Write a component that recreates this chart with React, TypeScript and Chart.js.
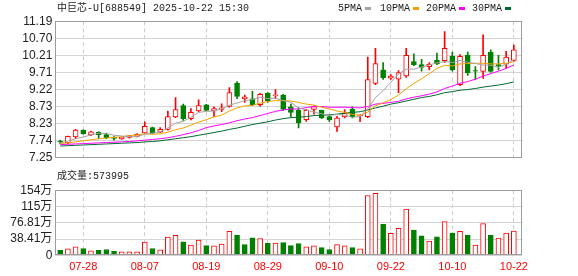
import React, { useEffect, useRef } from 'react';
import { Chart, registerables } from 'chart.js';

Chart.register(...registerables);

const TITLE = '中巨芯-U[688549] 2025-10-22 15:30';
const VOLUME_TITLE = '成交量';
const MA_LABELS = ['5PMA', '10PMA', '20PMA', '30PMA'];

const DATES = [
  '07-23', '07-24', '07-25', '07-28', '07-29', '07-30', '07-31', '08-01', '08-04', '08-05',
  '08-06', '08-07', '08-08', '08-11', '08-12', '08-13', '08-14', '08-15', '08-18', '08-19',
  '08-20', '08-21', '08-22', '08-25', '08-26', '08-27', '08-28', '08-29', '09-01', '09-02',
  '09-03', '09-04', '09-05', '09-08', '09-09', '09-10', '09-11', '09-12', '09-15', '09-16',
  '09-17', '09-18', '09-19', '09-22', '09-23', '09-24', '09-25', '09-26', '09-29', '09-30',
  '10-09', '10-10', '10-13', '10-14', '10-15', '10-16', '10-17', '10-20', '10-21', '10-22',
];
const X_TICK_DATES = ['07-28', '08-07', '08-19', '08-29', '09-10', '09-22', '10-10', '10-22'];

const OPEN = [
  7.73, 7.68, 7.85, 8.05, 7.91, 7.99, 7.92, 7.85, 7.80, 7.84,
  7.87, 7.97, 8.12, 7.99, 8.07, 8.43, 8.76, 8.38, 8.60, 8.78,
  8.60, 8.65, 8.73, 9.40, 8.95, 8.95, 8.78, 9.11, 9.04, 9.06,
  8.72, 8.62, 8.35, 8.65, 8.62, 8.44, 8.14, 8.43, 8.65, 8.46,
  8.44, 9.40, 9.79, 9.55, 9.52, 9.61, 10.03, 9.94, 9.88, 10.06,
  10.05, 10.18, 9.36, 10.21, 9.77, 9.74, 10.30, 9.94, 9.95, 10.06,
];
const HIGH = [
  7.76, 7.88, 8.07, 8.06, 8.02, 8.00, 7.96, 7.86, 7.86, 7.90,
  7.95, 8.29, 8.14, 8.12, 8.60, 8.99, 8.80, 8.67, 8.92, 8.79,
  8.72, 8.81, 9.28, 9.45, 9.06, 9.17, 9.11, 9.13, 9.22, 9.08,
  8.80, 8.70, 8.65, 8.75, 8.63, 8.47, 8.45, 8.64, 8.72, 8.49,
  10.16, 10.41, 10.00, 9.65, 9.77, 10.41, 10.25, 10.09, 10.00, 10.27,
  10.89, 10.30, 10.23, 10.30, 9.88, 10.80, 10.37, 10.21, 10.32, 10.50,
];
const LOW = [
  7.66, 7.66, 7.80, 7.93, 7.89, 7.80, 7.80, 7.76, 7.78, 7.82,
  7.85, 7.96, 7.95, 7.98, 8.05, 8.41, 8.33, 8.34, 8.58, 8.61,
  8.44, 8.58, 8.71, 8.96, 8.85, 8.76, 8.74, 8.85, 8.96, 8.62,
  8.44, 8.11, 8.30, 8.51, 8.38, 8.30, 8.01, 8.40, 8.40, 8.29,
  8.41, 9.36, 9.51, 9.51, 9.13, 9.57, 9.91, 9.75, 9.79, 9.94,
  10.00, 9.75, 9.33, 9.63, 9.51, 9.54, 9.72, 9.79, 9.84, 10.03,
];
const CLOSE = [
  7.71, 7.87, 8.05, 7.94, 8.00, 7.92, 7.83, 7.81, 7.85, 7.89,
  7.93, 8.16, 7.96, 8.07, 8.44, 8.64, 8.38, 8.56, 8.76, 8.62,
  8.67, 8.69, 9.13, 9.02, 9.01, 8.78, 9.08, 8.90, 9.07, 8.65,
  8.56, 8.26, 8.62, 8.73, 8.40, 8.34, 8.40, 8.53, 8.44, 8.48,
  9.51, 9.97, 9.56, 9.61, 9.71, 10.21, 9.94, 9.86, 9.95, 9.97,
  10.41, 9.79, 10.18, 9.70, 9.75, 10.21, 9.74, 9.90, 10.16, 10.37,
];

const MA5 = [
  7.68, 7.73, 7.80, 7.85, 7.91, 7.96, 7.95, 7.90, 7.88, 7.86,
  7.86, 7.93, 7.96, 8.00, 8.11, 8.25, 8.30, 8.42, 8.56, 8.59,
  8.60, 8.66, 8.77, 8.83, 8.90, 8.93, 9.00, 8.96, 8.97, 8.90,
  8.85, 8.69, 8.63, 8.57, 8.52, 8.47, 8.50, 8.48, 8.42, 8.44,
  8.67, 8.99, 9.19, 9.43, 9.67, 9.81, 9.81, 9.87, 9.93, 9.99,
  10.03, 10.00, 10.06, 10.01, 9.97, 9.93, 9.92, 9.86, 9.95, 10.08,
];
const MA10 = [
  7.66, 7.68, 7.71, 7.74, 7.77, 7.80, 7.82, 7.84, 7.86, 7.89,
  7.91, 7.94, 7.93, 7.94, 7.99, 8.06, 8.11, 8.19, 8.28, 8.35,
  8.43, 8.48, 8.60, 8.69, 8.75, 8.76, 8.83, 8.87, 8.90, 8.90,
  8.89, 8.85, 8.80, 8.77, 8.71, 8.66, 8.60, 8.56, 8.50, 8.48,
  8.57, 8.75, 8.84, 8.93, 9.06, 9.24, 9.40, 9.53, 9.68, 9.83,
  9.92, 9.90, 9.96, 9.97, 9.98, 9.98, 9.96, 9.96, 9.98, 10.02,
];
const MA20 = [
  7.63, 7.64, 7.65, 7.66, 7.67, 7.68, 7.69, 7.70, 7.71, 7.72,
  7.74, 7.76, 7.78, 7.80, 7.83, 7.87, 7.92, 7.97, 8.04, 8.12,
  8.17, 8.21, 8.26, 8.32, 8.37, 8.41, 8.47, 8.53, 8.59, 8.63,
  8.66, 8.66, 8.70, 8.73, 8.73, 8.71, 8.71, 8.71, 8.70, 8.69,
  8.73, 8.80, 8.82, 8.85, 8.88, 8.95, 9.00, 9.04, 9.09, 9.15,
  9.25, 9.32, 9.40, 9.45, 9.52, 9.61, 9.68, 9.75, 9.83, 9.93,
];
const MA30 = [
  7.59, 7.60, 7.61, 7.62, 7.63, 7.64, 7.65, 7.66, 7.67, 7.68,
  7.69, 7.71, 7.72, 7.74, 7.77, 7.80, 7.83, 7.86, 7.90, 7.94,
  7.98, 8.02, 8.07, 8.11, 8.16, 8.21, 8.25, 8.29, 8.34, 8.38,
  8.41, 8.42, 8.44, 8.47, 8.48, 8.49, 8.51, 8.54, 8.56, 8.58,
  8.63, 8.69, 8.74, 8.80, 8.84, 8.89, 8.94, 8.99, 9.02, 9.07,
  9.13, 9.16, 9.20, 9.22, 9.25, 9.29, 9.32, 9.35, 9.39, 9.44,
];

const VOLUME = [
  115000, 153000, 199000, 160000, 107000, 115000, 137000, 92000, 84000, 84000,
  84000, 313000, 160000, 130000, 428000, 473000, 320000, 244000, 359000, 229000,
  221000, 267000, 565000, 480000, 252000, 412000, 397000, 282000, 290000, 298000,
  229000, 275000, 198000, 221000, 183000, 137000, 252000, 221000, 183000, 153000,
  1410000, 1460000, 733000, 519000, 634000, 1090000, 595000, 458000, 336000, 435000,
  794000, 527000, 565000, 480000, 244000, 748000, 480000, 405000, 527000, 573995,
];
// 1 = up day (red, hollow), 0 = down day (green)
const VOL_UP = [
  0, 1, 1, 0, 1, 0, 0, 0, 1, 1,
  1, 1, 0, 1, 1, 1, 0, 1, 1, 0,
  1, 1, 1, 0, 0, 0, 1, 0, 1, 0,
  0, 0, 1, 1, 0, 0, 1, 1, 0, 1,
  1, 1, 0, 1, 1, 1, 0, 0, 1, 0,
  1, 0, 1, 0, 1, 1, 0, 1, 1, 1,
];

const PRICE_TICKS = [7.25, 7.74, 8.23, 8.73, 9.22, 9.71, 10.21, 10.7, 11.19];
const PRICE_TICK_LABELS = ['7.25', '7.74', '8.23', '8.73', '9.22', '9.71', '10.21', '10.70', '11.19'];
const VOL_TICKS = [0, 384070, 768140, 1152210, 1536280];
const VOL_TICK_LABELS = ['0', '38.41万', '76.81万', '115万', '154万'];

const RED = '#ff0000';
const GREEN = '#008000';
const MA_COLORS = ['#a3a3a3', '#f4a100', '#ff00ff', '#006b2e'];
const AXIS_FONT = '"Liberation Sans", Arial, "Noto Sans CJK SC", sans-serif';
const MONO_FONT = '"Liberation Mono", "Noto Sans CJK SC", monospace';

const W = 578;
const PLOT_LEFT = 55.3;
const PLOT_RIGHT = 522.3;
const X_MIN = -0.64;
const X_MAX = 60.1;

const framePlugin = {
  id: 'frame',
  afterDatasetsDraw(chart: any) {
    const { ctx, chartArea: a } = chart;
    const x0 = Math.round(a.left) + 0.5;
    const x1 = Math.round(a.right) - 0.5;
    const y0 = Math.round(a.top) + 0.5;
    const y1 = Math.round(a.bottom) - 0.5;
    ctx.save();
    ctx.strokeStyle = '#9c9c9c';
    ctx.lineWidth = 1;
    ctx.strokeRect(x0, y0, x1 - x0, y1 - y0);
    ctx.restore();
  },
};

function xScale(showLabels: boolean, height: number) {
  const tickValues = X_TICK_DATES.map((d) => DATES.indexOf(d));
  return {
    type: 'linear',
    min: X_MIN,
    max: X_MAX,
    offset: false,
    afterBuildTicks: (s: any) => {
      s.ticks = tickValues.map((v) => ({ value: v }));
    },
    afterFit: (s: any) => {
      s.height = height;
    },
    grid: { display: true, drawTicks: false, color: '#cccccc', lineWidth: 1, offset: false },
    border: { display: false, dash: [4, 3] },
    ticks: {
      display: showLabels,
      autoSkip: false,
      maxRotation: 0,
      minRotation: 0,
      padding: 5,
      color: RED,
      font: { family: AXIS_FONT, size: 11 },
      callback: (v: any) => DATES[v] ?? '',
    },
  };
}

function yScale(ticks: number[], labels: string[]) {
  return {
    type: 'linear',
    min: ticks[0],
    max: ticks[ticks.length - 1],
    afterBuildTicks: (s: any) => {
      s.ticks = ticks.map((v) => ({ value: v }));
    },
    afterFit: (s: any) => {
      s.width = PLOT_LEFT;
    },
    grid: { drawTicks: false, color: '#d4d4d4', lineWidth: 1 },
    border: { display: false },
    ticks: {
      autoSkip: false,
      padding: 3,
      color: '#222',
      font: { family: AXIS_FONT, size: 12 },
      callback: (_v: any, i: number) => labels[i],
    },
  };
}

export default function App() {
  const priceRef = useRef<HTMLCanvasElement>(null);
  const volRef = useRef<HTMLCanvasElement>(null);

  useEffect(() => {
    const idx = DATES.map((_, i) => i);
    const up = idx.map((i) => CLOSE[i] >= OPEN[i]);
    const maSeries = [MA5, MA10, MA20, MA30];

    const priceChart = new Chart(priceRef.current as HTMLCanvasElement, {
      type: 'bar',
      data: {
        datasets: [
          ...maSeries.map((s, k) => ({
            type: 'line' as const,
            label: MA_LABELS[k],
            data: s.map((v, i) => ({ x: i, y: v })),
            borderColor: MA_COLORS[k],
            borderWidth: 1,
            pointRadius: 0,
            tension: 0,
            order: 0,
          })),
          {
            type: 'bar' as const,
            label: 'body',
            data: idx.map((i) => ({ x: i, y: [Math.min(OPEN[i], CLOSE[i]), Math.max(OPEN[i], CLOSE[i])] })),
            backgroundColor: idx.map((i) => (up[i] ? '#ffffff' : GREEN)),
            borderColor: idx.map((i) => (up[i] ? RED : GREEN)),
            borderWidth: 1,
            borderSkipped: false,
            barThickness: 5,
            grouped: false,
            order: 1,
          },
          {
            type: 'bar' as const,
            label: 'wick',
            data: idx.map((i) => ({ x: i, y: [LOW[i], HIGH[i]] })),
            backgroundColor: idx.map((i) => (up[i] ? RED : GREEN)),
            borderWidth: 0,
            barThickness: 1,
            grouped: false,
            order: 2,
          },
        ] as any,
      },
      options: {
        animation: false,
        responsive: false,
        devicePixelRatio: 1,
        events: [],
        layout: { padding: { left: 0, right: W - PLOT_RIGHT, top: 21.3, bottom: 3 } },
        plugins: { legend: { display: false }, tooltip: { enabled: false } },
        scales: {
          x: xScale(false, 0) as any,
          y: yScale(PRICE_TICKS, PRICE_TICK_LABELS) as any,
        },
      },
      plugins: [framePlugin],
    });

    const volChart = new Chart(volRef.current as HTMLCanvasElement, {
      type: 'bar',
      data: {
        datasets: [
          {
            label: VOLUME_TITLE,
            data: idx.map((i) => ({ x: i, y: VOLUME[i] })),
            backgroundColor: idx.map((i) => (VOL_UP[i] ? '#ffffff' : GREEN)),
            borderColor: idx.map((i) => (VOL_UP[i] ? RED : GREEN)),
            borderWidth: 1,
            borderSkipped: false,
            barThickness: 5,
            grouped: false,
          },
        ] as any,
      },
      options: {
        animation: false,
        responsive: false,
        devicePixelRatio: 1,
        events: [],
        layout: { padding: { left: 0, right: W - PLOT_RIGHT, top: 6, bottom: 0 } },
        plugins: { legend: { display: false }, tooltip: { enabled: false } },
        scales: {
          x: xScale(true, 20.7) as any,
          y: yScale(VOL_TICKS, VOL_TICK_LABELS) as any,
        },
      },
      plugins: [framePlugin],
    });

    return () => {
      priceChart.destroy();
      volChart.destroy();
    };
  }, []);

  const legendLefts = [338, 380, 426, 472];

  return (
    <div style={{ position: 'absolute', left: 0, top: 0, width: W, height: 276, background: '#fff', overflow: 'hidden' }}>
      <canvas ref={priceRef} width={W} height={168} style={{ position: 'absolute', left: 0, top: 0 }} />
      <canvas ref={volRef} width={W} height={96} style={{ position: 'absolute', left: 0, top: 180 }} />
      <div
        style={{
          position: 'absolute', left: 57, top: 2.5, fontFamily: MONO_FONT, fontSize: 10,
          lineHeight: '12px', color: '#222', whiteSpace: 'nowrap',
        }}
      >
        {TITLE}
      </div>
      {MA_LABELS.map((label, k) => (
        <div
          key={label}
          style={{
            position: 'absolute', left: legendLefts[k], top: 2.5, fontFamily: MONO_FONT, fontSize: 10,
            lineHeight: '12px', color: '#222', whiteSpace: 'nowrap', display: 'flex', alignItems: 'center',
          }}
        >
          <span>{label}</span>
          <span style={{ display: 'inline-block', width: 6, height: 3, marginLeft: 3, background: MA_COLORS[k] }} />
        </div>
      ))}
      <div
        style={{
          position: 'absolute', left: 57, top: 170.5, fontFamily: MONO_FONT, fontSize: 10,
          lineHeight: '12px', color: '#222', whiteSpace: 'nowrap',
        }}
      >
        {`${VOLUME_TITLE}:${VOLUME[VOLUME.length - 1]}`}
      </div>
    </div>
  );
}
